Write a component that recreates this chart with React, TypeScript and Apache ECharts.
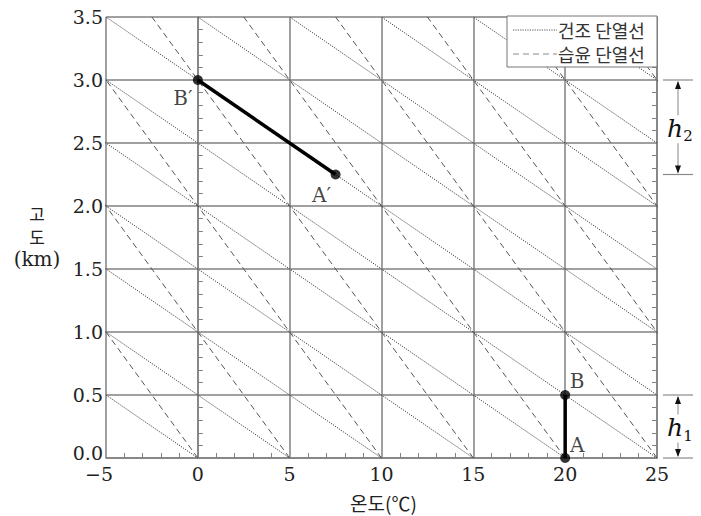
import React, { useEffect, useRef } from "react";
import * as echarts from "echarts";

// ---- data ----
const tempRange = [-5, 25]; // °C
const heightRange = [0, 3.5]; // km
const dryBaseTemps = [0, 5, 10, 15, 20, 25, 30, 35, 40, 45, 50, 55, 60]; // °C at 0 km
const wetBaseTemps = [0, 5, 10, 15, 20, 25, 30, 35, 40]; // °C at 0 km
const dryLapseRate = 10; // °C per km
const wetLapseRate = 5; // °C per km
const surfaceParcel = [
  [20, 0],
  [20, 0.5],
];
const aloftParcel = [
  [7.5, 2.25],
  [0, 3.0],
];
const pointNames = ["A", "B", "A′", "B′"];
const pointValues = [
  [20, 0],
  [20, 0.5],
  [7.5, 2.25],
  [0, 3.0],
];
const layerNames = ["1", "2"];
const layerBottoms = [0, 2.25];
const layerTops = [0.5, 3.0];
const legendNames = ["건조 단열선", "습윤 단열선"];
const xAxisTitle = "온도(℃)";
const yAxisTitleLines = ["고", "도", "(km)"];

// ---- styles ----
const SERIF = "'DejaVu Serif', 'Liberation Serif', serif";
const KR = "'Noto Sans CJK KR', sans-serif";
const GRID_COLOR = "#808080";
const labelOffsets: Record<string, number[]> = {
  A: [12, -13],
  B: [12, -14],
  "A′": [-14, 20],
  "B′": [-15, 18],
};

export default function App() {
  const ref = useRef<HTMLDivElement>(null);

  useEffect(() => {
    if (!ref.current) return;
    const chart = echarts.init(ref.current, null, { renderer: "svg" });

    const adiabat = (base: number, rate: number, dash: number[] | string, color: string, width: number) => ({
      type: "line",
      data: [
        [base, heightRange[0]],
        [base - rate * heightRange[1], heightRange[1]],
      ],
      symbol: "none",
      silent: true,
      clip: true,
      z: 1,
      lineStyle: { color, width, type: dash },
    });

    const series: any[] = [
      ...dryBaseTemps.map((b) => adiabat(b, dryLapseRate, [1.2, 1.2], "#444", 1)),
      ...wetBaseTemps.map((b) => adiabat(b, wetLapseRate, [6, 4], "#555", 1)),
      {
        type: "line",
        data: surfaceParcel,
        symbol: "none",
        z: 5,
        lineStyle: { color: "#000", width: 3.5 },
      },
      {
        type: "line",
        data: aloftParcel,
        symbol: "none",
        z: 5,
        lineStyle: { color: "#000", width: 3.5 },
      },
      {
        type: "scatter",
        symbol: "circle",
        symbolSize: 10,
        clip: false,
        z: 6,
        itemStyle: { color: "#000" },
        data: pointNames.map((n, i) => ({
          name: n,
          value: pointValues[i],
          label: {
            show: true,
            formatter: n,
            position: "inside",
            offset: labelOffsets[n],
            color: "#111",
            fontFamily: SERIF,
            fontSize: 20,
          },
        })),
      },
    ];

    const minorTick = { show: true, splitNumber: 5, length: 5, lineStyle: { color: GRID_COLOR, width: 1 } };

    chart.setOption({
      animation: false,
      backgroundColor: "#fff",
      grid: { left: 106, right: 44, top: 17, bottom: 58 },
      xAxis: {
        type: "value",
        min: tempRange[0],
        max: tempRange[1],
        interval: 5,
        axisLine: { show: true, lineStyle: { color: GRID_COLOR, width: 1.5 } },
        axisTick: { show: false, inside: true },
        minorTick,
        splitLine: { show: true, lineStyle: { color: GRID_COLOR, width: 1.5 } },
        axisLabel: {
          margin: 6,
          color: "#222",
          fontFamily: SERIF,
          fontSize: 19,
          formatter: (v: number) => (v < 0 ? "{neg|−" + Math.abs(v) + "}" : String(v)),
          rich: {
            neg: { padding: [0, 14, 0, 0], color: "#222", fontFamily: SERIF, fontSize: 19 },
          },
        },
      },
      yAxis: [
        {
          type: "value",
          min: heightRange[0],
          max: heightRange[1],
          interval: 0.5,
          axisLine: { show: true, lineStyle: { color: GRID_COLOR, width: 1.5 } },
          axisTick: { show: false, inside: true },
          minorTick,
          splitLine: { show: true, lineStyle: { color: GRID_COLOR, width: 1.5 } },
          axisLabel: {
            margin: 3,
            color: "#222",
            fontFamily: SERIF,
            fontSize: 19,
            formatter: (v: number) => (v === heightRange[0] ? "{lo|" + v.toFixed(1) + "}" : v.toFixed(1)),
            rich: {
              lo: { padding: [0, 0, 11, 0], color: "#222", fontFamily: SERIF, fontSize: 19 },
            },
          },
        },
        {
          type: "value",
          position: "right",
          min: heightRange[0],
          max: heightRange[1],
          interval: 0.5,
          axisLine: { show: true, lineStyle: { color: GRID_COLOR, width: 1.5 } },
          axisTick: { show: false, inside: true },
          minorTick,
          splitLine: { show: false },
          axisLabel: { show: false },
        },
      ],
      series,
    });

    const px = (x: number, y: number) =>
      chart.convertToPixel({ xAxisIndex: 0, yAxisIndex: 0 }, [x, y]) as number[];

    const graphics: any[] = [];
    const rightEdge = px(tempRange[1], 0)[0];
    const xa = rightEdge + 6;
    const xb = rightEdge + 36;
    const xc = rightEdge + 21;

    layerNames.forEach((nm, i) => {
      const yTop = px(0, layerTops[i])[1];
      const yBot = px(0, layerBottoms[i])[1];
      const mid = (yTop + yBot) / 2 + 2;
      graphics.push(
        { type: "line", z: 50, shape: { x1: xa, y1: yTop, x2: xb, y2: yTop }, style: { stroke: "#8a8a8a", lineWidth: 1.2 } },
        { type: "line", z: 50, shape: { x1: xa, y1: yBot, x2: xb, y2: yBot }, style: { stroke: "#8a8a8a", lineWidth: 1.2 } },
        { type: "line", z: 50, shape: { x1: xc, y1: yTop + 2, x2: xc, y2: mid - 14 }, style: { stroke: "#9a9a9a", lineWidth: 1.2 } },
        { type: "line", z: 50, shape: { x1: xc, y1: mid + 14, x2: xc, y2: yBot - 2 }, style: { stroke: "#9a9a9a", lineWidth: 1.2 } },
        {
          type: "polygon",
          z: 51,
          shape: { points: [[xc, yTop + 1], [xc - 3, yTop + 9], [xc + 3, yTop + 9]] },
          style: { fill: "#111" },
        },
        {
          type: "polygon",
          z: 51,
          shape: { points: [[xc, yBot - 1], [xc - 3, yBot - 9], [xc + 3, yBot - 9]] },
          style: { fill: "#111" },
        },
        {
          type: "text",
          z: 52,
          x: xc - 3,
          y: mid - 1,
          style: {
            text: "h",
            fill: "#111",
            font: `italic 25px ${SERIF}`,
            textAlign: "center",
            textVerticalAlign: "middle",
          },
        },
        {
          type: "text",
          z: 52,
          x: xc + 10,
          y: mid + 7,
          style: {
            text: nm,
            fill: "#111",
            font: `15px ${SERIF}`,
            textAlign: "center",
            textVerticalAlign: "middle",
          },
        }
      );
    });

    // legend box
    const lx = 507;
    const ly = 16;
    const lw = rightEdge - lx;
    graphics.push({
      type: "rect",
      z: 60,
      shape: { x: lx, y: ly, width: lw, height: 51 },
      style: { fill: "#fff", stroke: "#777", lineWidth: 1 },
    });
    const legendDash = [[1.2, 1.2], [6, 4]];
    const legendColor = ["#555", "#8a8a8a"];
    legendNames.forEach((nm, i) => {
      const y = ly + 14 + i * 24;
      graphics.push(
        {
          type: "line",
          z: 61,
          shape: { x1: lx + 6, y1: y, x2: lx + 50, y2: y },
          style: { stroke: legendColor[i], lineWidth: 1, lineDash: legendDash[i] },
        },
        {
          type: "text",
          z: 61,
          x: lx + 51,
          y,
          style: {
            text: nm,
            fill: "#333",
            font: `18px ${KR}`,
            textAlign: "left",
            textVerticalAlign: "middle",
          },
        }
      );
    });

    // axis titles
    const plotMidX = (px(tempRange[0], 0)[0] + rightEdge) / 2;
    graphics.push({
      type: "text",
      z: 50,
      x: plotMidX + 2,
      y: 502,
      style: {
        text: xAxisTitle,
        fill: "#222",
        font: `19px ${KR}`,
        textAlign: "center",
        textVerticalAlign: "middle",
      },
    });
    const yTitleY = [213, 236, 259];
    yAxisTitleLines.forEach((t, i) => {
      graphics.push({
        type: "text",
        z: 50,
        x: 37,
        y: yTitleY[i],
        style: {
          text: t,
          fill: "#222",
          font: i < 2 ? `17px ${KR}` : `20px ${SERIF}`,
          textAlign: "center",
          textVerticalAlign: "middle",
        },
      });
    });

    chart.setOption({ graphic: { elements: graphics } });

    return () => chart.dispose();
  }, []);

  return <div ref={ref} style={{ width: 701, height: 516, position: "absolute", left: 0, top: 0 }} />;
}
